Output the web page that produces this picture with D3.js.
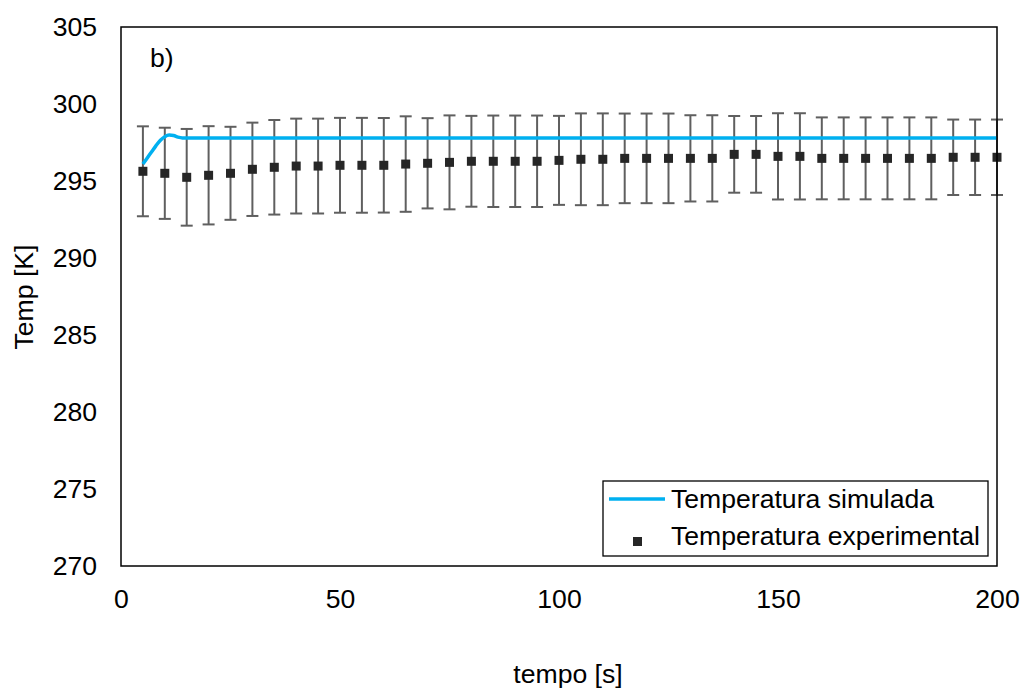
<!DOCTYPE html>
<html>
<head>
<meta charset="utf-8">
<script src="https://cdn.jsdelivr.net/npm/d3@7"></script>
<style>
    body{margin:0;background:#fff;}
    svg text{font-family:"Liberation Sans",Arial,sans-serif;fill:#000;}
</style>
</head>
<body>
<svg width="1023" height="693"></svg>
<script>
// datos experimentales (media y desviacion)
let tiempoExp = [5,10,15,20,25,30,35,40,45,50,55,60,65,70,75,80,85,90,95,100,
                 105,110,115,120,125,130,135,140,145,150,155,160,165,170,175,180,185,190,195,200];
let tempExp = [295.63,295.50,295.24,295.37,295.50,295.76,295.89,295.97,295.97,296.02,
               296.02,296.02,296.10,296.15,296.21,296.28,296.28,296.28,296.28,296.34,
               296.41,296.41,296.47,296.47,296.47,296.47,296.47,296.73,296.73,296.60,
               296.60,296.47,296.47,296.47,296.47,296.47,296.47,296.54,296.54,296.54];
let errExp = [2.92,2.96,3.14,3.19,3.02,3.03,3.07,3.08,3.08,3.08,
              3.08,3.07,3.10,2.93,3.05,2.95,2.97,2.97,2.97,2.89,
              2.98,2.98,2.91,2.91,2.91,2.80,2.80,2.49,2.49,2.80,
              2.80,2.66,2.66,2.66,2.66,2.66,2.66,2.45,2.45,2.45];
// curva simulada
let tiempoSim = [5,6,7,8,9,10,11,12,13,14,15,20,50,100,150,200];
let tempSim = [296.1,296.5,296.9,297.3,297.65,297.88,297.98,297.95,297.85,297.8,297.8,297.8,297.8,297.8,297.8,297.8];
// ejes
let xTicks = [0,50,100,150,200];
let yTicks = [270,275,280,285,290,295,300,305];
let legendNames = ['Temperatura simulada','Temperatura experimental'];

let svg = d3.select('svg');
let pLeft = 121, pRight = 997, pTop = 27, pBottom = 566;
let xScale = d3.scaleLinear().domain([0,200]).range([pLeft,pRight]);
let yScale = d3.scaleLinear().domain([270,305]).range([pBottom,pTop]);
let fontSize = '26.6px';

//ejes sin marcas
svg.append('g')
    .attr('transform',`translate(0,${pBottom})`)
    .call(d3.axisBottom(xScale).tickValues(xTicks).tickSize(0).tickPadding(23))
    .call(g=>g.select('.domain').remove())
    .selectAll('text').style('font-size',fontSize);
svg.append('g')
    .attr('transform',`translate(${pLeft},0)`)
    .call(d3.axisLeft(yScale).tickValues(yTicks).tickSize(0).tickPadding(24))
    .call(g=>g.select('.domain').remove())
    .selectAll('text').style('font-size',fontSize);

//barras de error
let expData = tiempoExp.map((t,i)=>[t,tempExp[i],errExp[i]]);
let err = svg.append('g').attr('stroke','#5f5f5f').attr('stroke-width',2);
err.selectAll('line.v').data(expData).enter().append('line')
    .attr('x1',d=>xScale(d[0])).attr('x2',d=>xScale(d[0]))
    .attr('y1',d=>yScale(d[1]-d[2])).attr('y2',d=>yScale(d[1]+d[2]));
err.selectAll('line.top').data(expData).enter().append('line')
    .attr('x1',d=>xScale(d[0])-6).attr('x2',d=>xScale(d[0])+6)
    .attr('y1',d=>yScale(d[1]+d[2])).attr('y2',d=>yScale(d[1]+d[2]));
err.selectAll('line.bot').data(expData).enter().append('line')
    .attr('x1',d=>xScale(d[0])-6).attr('x2',d=>xScale(d[0])+6)
    .attr('y1',d=>yScale(d[1]-d[2])).attr('y2',d=>yScale(d[1]-d[2]));

//linea simulada
let simData = tiempoSim.map((t,i)=>[t,tempSim[i]]);
svg.append('path')
    .datum(simData)
    .attr('fill','none')
    .attr('stroke','#00b0f0')
    .attr('stroke-width',3.5)
    .attr('d',d3.line().x(d=>xScale(d[0])).y(d=>yScale(d[1])).curve(d3.curveMonotoneX));

//puntos experimentales
svg.append('g').selectAll('rect').data(expData).enter().append('rect')
    .attr('x',d=>xScale(d[0])-4.5).attr('y',d=>yScale(d[1])-4.5)
    .attr('width',9).attr('height',9)
    .attr('fill','#262626');

//marco del area
svg.append('rect')
    .attr('x',pLeft).attr('y',pTop)
    .attr('width',pRight-pLeft).attr('height',pBottom-pTop)
    .attr('fill','none').attr('stroke','#000').attr('stroke-width',1.5);

svg.append('text').attr('x',150).attr('y',67).style('font-size',fontSize).text('b)');

//leyenda
let lg = svg.append('g');
lg.append('rect').attr('x',603).attr('y',481).attr('width',385).attr('height',75)
    .attr('fill','#fff').attr('stroke','#000').attr('stroke-width',1.3);
lg.append('line').attr('x1',609).attr('x2',665).attr('y1',499).attr('y2',499)
    .attr('stroke','#00b0f0').attr('stroke-width',3.5);
lg.append('rect').attr('x',633).attr('y',537).attr('width',9).attr('height',9).attr('fill','#262626');
lg.selectAll('text').data(legendNames).enter().append('text')
    .attr('x',671).attr('y',(d,i)=>508+i*37)
    .style('font-size',fontSize)
    .text(d=>d);

//titulos
svg.append('text').attr('x',568).attr('y',683).attr('text-anchor','middle')
    .style('font-size',fontSize).text('tempo [s]');
svg.append('text').attr('transform','translate(33,297) rotate(-90)').attr('text-anchor','middle')
    .style('font-size',fontSize).text('Temp [K]');
</script>
</body>
</html>
